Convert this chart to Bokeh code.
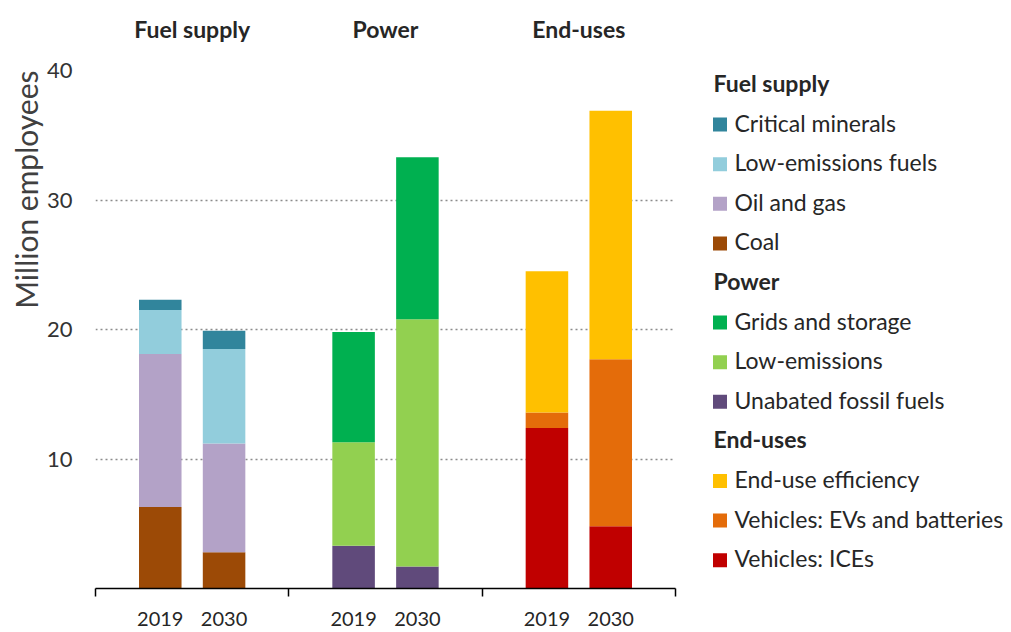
from bokeh.plotting import figure
from bokeh.models import Range1d, FixedTicker, LinearAxis, ColumnDataSource, Title
from bokeh.layouts import row
from bokeh.embed import file_html
from bokeh.resources import INLINE
from bokeh.core.properties import value

# ---------------- data ----------------
groups = ["Fuel supply", "Power", "End-uses"]
years = ["2019", "2030"]

fuel_series = ["Coal", "Oil and gas", "Low-emissions fuels", "Critical minerals"]
fuel_2019 = [6.3, 11.8, 3.4, 0.8]
fuel_2030 = [2.8, 8.4, 7.3, 1.4]

power_series = ["Unabated fossil fuels", "Low-emissions", "Grids and storage"]
power_2019 = [3.3, 8.0, 8.5]
power_2030 = [1.7, 19.1, 12.5]

end_series = ["Vehicles: ICEs", "Vehicles: EVs and batteries", "End-use efficiency"]
end_2019 = [12.4, 1.2, 10.9]
end_2030 = [4.8, 12.9, 19.2]

y_ticks = [10, 20, 30, 40]
y_title = "Million employees"

# ---------------- styles ----------------
fuel_colors = ["#9c4a06", "#b3a2c7", "#92cddc", "#31859c"]
power_colors = ["#604a7b", "#92d050", "#00b050"]
end_colors = ["#c00000", "#e46c0a", "#ffc000"]

FONT = "Lato"
TXT = "#262626"
OFF = 0.165
BAR_W = 0.22
TOP, BOT = 70, 42
H = 630

blocks = [
    (fuel_series, fuel_2019, fuel_2030, fuel_colors),
    (power_series, power_2019, power_2030, power_colors),
    (end_series, end_2019, end_2030, end_colors),
]

p = figure(width=690, height=H, x_range=Range1d(0, len(groups)), y_range=Range1d(0, 40),
           output_backend="svg", toolbar_location=None, x_axis_location=None,
           min_border_left=95, min_border_right=15, min_border_top=TOP, min_border_bottom=BOT)
p.outline_line_color = None
p.background_fill_color = "white"

bar_xs = []
bar_labels = {}
for gi, (series, v19, v30, cols) in enumerate(blocks):
    xs = [gi + 0.5 - OFF, gi + 0.5 + OFF]
    for x, yr in zip(xs, years):
        bar_xs.append(x)
        bar_labels[x] = yr
    data = {"x": xs}
    for s, a, b in zip(series, v19, v30):
        data[s] = [a, b]
    src = ColumnDataSource(data)
    p.vbar_stack(series, x="x", width=BAR_W, source=src, fill_color=cols, line_color=None)

# y axis
yax = p.yaxis[0]
yax.ticker = FixedTicker(ticks=y_ticks)
yax.axis_line_color = None
yax.major_tick_line_color = None
yax.minor_tick_line_color = None
yax.major_tick_out = 0
yax.major_tick_in = 0
yax.major_label_standoff = 23
yax.major_label_text_font = FONT
yax.major_label_text_font_size = "22px"
yax.major_label_text_color = "#333333"

p.add_layout(Title(text=y_title, align="right", text_font=FONT, text_font_size="30px",
                   text_font_style="normal", text_color="#404040", standoff=0), "left")

p.xgrid.visible = False
p.ygrid.ticker = FixedTicker(ticks=y_ticks)
p.ygrid.grid_line_color = "#8c8c8c"
p.ygrid.grid_line_dash = "2 3"
p.ygrid.grid_line_width = 1.5

# bottom axis: years under bars, ticks at group boundaries
bottom = LinearAxis(ticker=FixedTicker(ticks=bar_xs, minor_ticks=list(range(len(groups) + 1))),
                    major_label_overrides=bar_labels)
bottom.axis_line_color = "black"
bottom.axis_line_width = 1.5
bottom.major_tick_line_color = None
bottom.major_tick_out = 0
bottom.major_tick_in = 0
bottom.minor_tick_line_color = "black"
bottom.minor_tick_line_width = 1.5
bottom.minor_tick_out = 8
bottom.minor_tick_in = 0
bottom.major_label_standoff = 15
bottom.major_label_text_font = FONT
bottom.major_label_text_font_size = "20px"
bottom.major_label_text_color = TXT
p.add_layout(bottom, "below")

# top axis: group titles
centers = [gi + 0.5 for gi in range(len(groups))]
top = LinearAxis(ticker=FixedTicker(ticks=centers),
                 major_label_overrides={c: g for c, g in zip(centers, groups)})
top.axis_line_color = None
top.major_tick_line_color = None
top.minor_tick_line_color = None
top.major_tick_out = 0
top.major_tick_in = 0
top.major_label_standoff = 28
top.major_label_text_font = FONT
top.major_label_text_font_style = "bold"
top.major_label_text_font_size = "23px"
top.major_label_text_color = TXT
p.add_layout(top, "above")

# ---------------- legend panel ----------------
LW = 315
lg = figure(width=LW, height=H, x_range=Range1d(0, LW), y_range=Range1d(H - BOT, TOP),
            output_backend="svg", toolbar_location=None, x_axis_location=None,
            y_axis_location=None, min_border_left=0, min_border_right=0,
            min_border_top=TOP, min_border_bottom=BOT)
lg.outline_line_color = None
lg.grid.visible = False

head_y, head_t = [], []
item_y, item_t, item_c = [], [], []
ri = 0
for g, (series, v19, v30, cols) in zip(groups, blocks):
    head_y.append(82.5 + ri * 39.6)
    head_t.append(g)
    ri += 1
    for s, c in zip(series[::-1], cols[::-1]):
        item_y.append(82.5 + ri * 39.6)
        item_t.append(s)
        item_c.append(c)
        ri += 1

lg.text(x=[23] * len(head_y), y=head_y, text=head_t, text_font=value(FONT),
        text_font_style="bold", text_font_size="23px", text_color=TXT,
        text_baseline="middle", text_align="left")
lg.rect(x=[29.5] * len(item_y), y=[v + 2 for v in item_y], width=14, height=14,
        width_units="screen", height_units="screen", fill_color=item_c, line_color=None)
lg.text(x=[44] * len(item_y), y=item_y, text=item_t, text_font=value(FONT),
        text_font_size="23px", text_color=TXT, text_baseline="middle", text_align="left")

layout = row(p, lg)
open("out.html", "w").write(file_html(layout, INLINE))
